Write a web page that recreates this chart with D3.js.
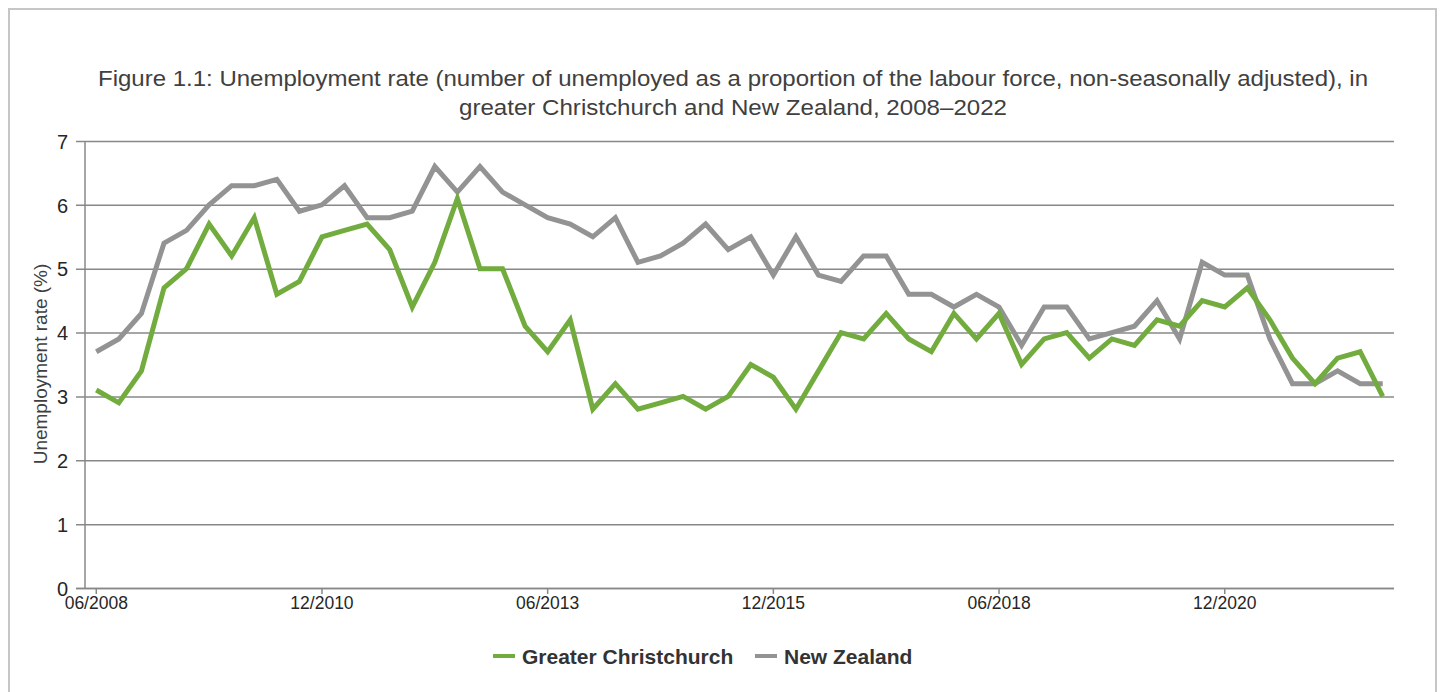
<!DOCTYPE html>
<html>
<head>
<meta charset="utf-8">
<script src="https://cdn.jsdelivr.net/npm/d3@7"></script>
<style>
  html, body { margin: 0; padding: 0; background: #ffffff; }
  svg { display: block; }
  text { font-family: "Liberation Sans", Arial, sans-serif; }
</style>
</head>
<body>
<svg id="chart" width="1441" height="692"></svg>
<script>
// ---- Data ----
const categories = [
  "06/2008","09/2008","12/2008",
  "03/2009","06/2009","09/2009","12/2009",
  "03/2010","06/2010","09/2010","12/2010",
  "03/2011","06/2011","09/2011","12/2011",
  "03/2012","06/2012","09/2012","12/2012",
  "03/2013","06/2013","09/2013","12/2013",
  "03/2014","06/2014","09/2014","12/2014",
  "03/2015","06/2015","09/2015","12/2015",
  "03/2016","06/2016","09/2016","12/2016",
  "03/2017","06/2017","09/2017","12/2017",
  "03/2018","06/2018","09/2018","12/2018",
  "03/2019","06/2019","09/2019","12/2019",
  "03/2020","06/2020","09/2020","12/2020",
  "03/2021","06/2021","09/2021","12/2021",
  "03/2022","06/2022","09/2022"
];
const christchurch = [
  3.1, 2.9, 3.4, 4.7, 5.0, 5.7, 5.2, 5.8, 4.6, 4.8, 5.5, 5.6, 5.7, 5.3, 4.4, 5.1, 6.1, 5.0,
  5.0, 4.1, 3.7, 4.2, 2.8, 3.2, 2.8, 2.9, 3.0, 2.8, 3.0, 3.5, 3.3, 2.8, 3.4, 4.0, 3.9, 4.3, 3.9, 3.7,
  4.3, 3.9, 4.3, 3.5, 3.9, 4.0, 3.6, 3.9, 3.8, 4.2, 4.1, 4.5, 4.4, 4.7, 4.2, 3.6, 3.2, 3.6, 3.7, 3.0
];
const newZealand = [
  3.7, 3.9, 4.3, 5.4, 5.6, 6.0, 6.3, 6.3, 6.4, 5.9, 6.0, 6.3, 5.8, 5.8, 5.9, 6.6, 6.2, 6.6,
  6.2, 6.0, 5.8, 5.7, 5.5, 5.8, 5.1, 5.2, 5.4, 5.7, 5.3, 5.5, 4.9, 5.5, 4.9, 4.8, 5.2, 5.2, 4.6, 4.6,
  4.4, 4.6, 4.4, 3.8, 4.4, 4.4, 3.9, 4.0, 4.1, 4.5, 3.9, 5.1, 4.9, 4.9, 3.9, 3.2, 3.2, 3.4, 3.2, 3.2
];
const xTickLabels = ["06/2008","12/2010","06/2013","12/2015","06/2018","12/2020"];
const yTicks = [0, 1, 2, 3, 4, 5, 6, 7];
const seriesNames = ["Greater Christchurch", "New Zealand"];
const seriesColors = ["#72ac3e", "#939393"];
const titleLines = [
  "Figure 1.1: Unemployment rate (number of unemployed as a proportion of the labour force, non-seasonally adjusted), in",
  "greater Christchurch and New Zealand, 2008\u20132022"
];
const yAxisTitle = "Unemployment rate (%)";

// ---- Layout ----
const svg = d3.select("#chart");
const plot = { left: 85, right: 1394, top: 141, bottom: 588 };

// frame
svg.append("rect")
  .attr("x", 9).attr("y", 9).attr("width", 1427).attr("height", 720)
  .attr("fill", "#ffffff").attr("stroke", "#c6c6c6").attr("stroke-width", 2);

// title
const titleG = svg.append("g");
const titleWidths = [1270, 548];
titleLines.forEach((t, i) => {
  titleG.append("text")
    .attr("x", 733).attr("y", 86 + i * 29)
    .attr("text-anchor", "middle")
    .attr("font-size", 22)
    .attr("fill", "#404040")
    .attr("textLength", titleWidths[i])
    .attr("lengthAdjust", "spacingAndGlyphs")
    .text(t);
});

// scales
const x = d3.scaleBand().domain(categories).range([plot.left, plot.right]).padding(0);
const xc = d => x(d) + x.bandwidth() / 2;
const y = d3.scaleLinear().domain([0, 7]).range([plot.bottom, plot.top]);

// gridlines + y axis ticks
const yAxis = d3.axisLeft(y).tickValues(yTicks).tickSize(plot.right - plot.left + 9).tickPadding(0).tickFormat(d3.format("d"));
const yG = svg.append("g").attr("transform", `translate(${plot.right},0)`).call(yAxis);
yG.select(".domain").remove();
yG.selectAll(".tick line").attr("stroke", "#888888").attr("stroke-width", 1.5);
yG.selectAll(".tick text")
  .attr("x", -(plot.right - 68))
  .attr("dy", "0.36em")
  .attr("font-size", 20)
  .attr("font-family", "Liberation Sans, Arial, sans-serif")
  .attr("fill", "#262626");

// y axis line
svg.append("line")
  .attr("x1", plot.left).attr("x2", plot.left)
  .attr("y1", plot.top).attr("y2", plot.bottom)
  .attr("stroke", "#888888").attr("stroke-width", 1.5);

// x axis
const xAxis = d3.axisBottom(x).tickValues(xTickLabels).tickSize(6).tickPadding(3);
const xG = svg.append("g").attr("transform", `translate(0,${plot.bottom})`).call(xAxis);
xG.select(".domain")
  .attr("d", `M${plot.left - 9},0.5H${plot.right}`)
  .attr("stroke", "#888888").attr("stroke-width", 1.5);
xG.selectAll(".tick line").attr("stroke", "#888888").attr("stroke-width", 1.5);
xG.selectAll(".tick text")
  .attr("font-size", 17.5)
  .attr("font-family", "Liberation Sans, Arial, sans-serif")
  .attr("fill", "#262626");

// y axis title
svg.append("text")
  .attr("transform", "translate(47,364) rotate(-90)")
  .attr("text-anchor", "middle")
  .attr("font-size", 19)
  .attr("fill", "#404040")
  .text(yAxisTitle);

// lines
const line = d3.line().x((d, i) => xc(categories[i])).y(d => y(d));
[newZealand, christchurch].forEach((s, k) => {
  const idx = k === 0 ? 1 : 0;
  svg.append("path")
    .datum(s)
    .attr("d", line)
    .attr("fill", "none")
    .attr("stroke", seriesColors[idx])
    .attr("stroke-width", 5)
    .attr("stroke-linejoin", "miter");
});

// legend
const legendItems = [
  { name: seriesNames[0], color: seriesColors[0], x: 493 },
  { name: seriesNames[1], color: seriesColors[1], x: 755 }
];
const lg = svg.append("g");
legendItems.forEach(it => {
  lg.append("line")
    .attr("x1", it.x).attr("x2", it.x + 22)
    .attr("y1", 656).attr("y2", 656)
    .attr("stroke", it.color).attr("stroke-width", 4);
  lg.append("text")
    .attr("x", it.x + 29).attr("y", 663.5)
    .attr("font-size", 21)
    .attr("font-weight", "bold")
    .attr("fill", "#333333")
    .text(it.name);
});
</script>
</body>
</html>
